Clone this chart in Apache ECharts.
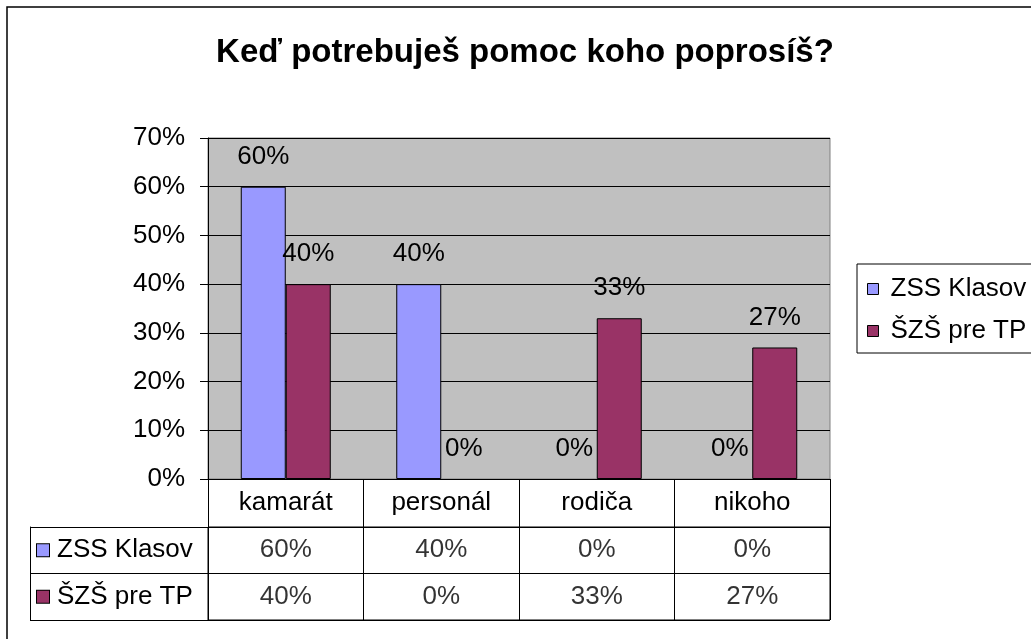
<!DOCTYPE html>
<html>
<head>
<meta charset="utf-8">
<script src="https://cdn.jsdelivr.net/npm/echarts@6/dist/echarts.min.js"></script>
<style>
html, body { margin: 0; padding: 0; background: #fff; }
#main { width: 1031px; height: 639px; }
</style>
</head>
<body>
<div id="main"></div>
<script>
// data
var categories = ['kamarát', 'personál', 'rodiča', 'nikoho'];
var seriesNames = ['ZSS Klasov', 'ŠZŠ pre TP'];
var zssKlasov = [60, 40, 0, 0];
var szsPreTP = [40, 0, 33, 27];
var yTicks = [0, 10, 20, 30, 40, 50, 60, 70];

var font = 'Liberation Sans, Arial, sans-serif';
var fs = 26;
var colors = ['#9999ff', '#993366'];

// zero bars get no outline, like the original
function barData(vals) {
  return vals.map(function (v) {
    return v === 0 ? { value: v, itemStyle: { borderWidth: 0 } } : v;
  });
}

// cells of the data table: [column, row, value]
var tableCells = [];
[zssKlasov, szsPreTP].forEach(function (vals, r) {
  vals.forEach(function (v, c) { tableCells.push([c, r, v]); });
});

var chart = echarts.init(document.getElementById('main'));

var barLabel = { show: true, position: 'top', distance: 17, formatter: '{c}%', fontFamily: font, fontSize: fs, color: '#000' };

var option = {
  animation: false,
  backgroundColor: '#fff',
  title: {
    text: 'Keď potrebuješ pomoc koho poprosíš?',
    left: 525,
    top: 36,
    padding: 0,
    textAlign: 'center',
    textStyle: { fontFamily: font, fontSize: 33, fontWeight: 'bold', color: '#000' }
  },
  legend: {
    data: seriesNames,
    orient: 'vertical',
    left: 857,
    top: 264,
    padding: [12, 80, 9, 10],
    itemGap: 16,
    itemWidth: 11,
    itemHeight: 11,
    icon: 'rect',
    borderColor: '#000',
    borderWidth: 1,
    itemStyle: { borderColor: '#000', borderWidth: 1 },
    textStyle: { fontFamily: font, fontSize: fs, lineHeight: 26, color: '#000', padding: [0, 0, 0, 7] }
  },
  graphic: [{
    type: 'rect',
    shape: { x: 7, y: 7, width: 1100, height: 700 },
    style: { fill: 'none', stroke: '#000', lineWidth: 1.5 },
    silent: true
  }],
  grid: [
    { left: 208, top: 138, width: 622, height: 341, show: true, backgroundColor: '#c0c0c0', borderColor: '#808080', borderWidth: 1 },
    { left: 208, top: 527, width: 622, height: 93, show: true, backgroundColor: '#fff', borderColor: '#000', borderWidth: 1 }
  ],
  xAxis: [{
    type: 'category',
    gridIndex: 0,
    data: categories,
    axisLine: { lineStyle: { color: '#000', width: 1 } },
    axisTick: { show: true, alignWithLabel: false, length: 48, lineStyle: { color: '#000' } },
    axisLabel: { fontFamily: font, fontSize: fs, color: '#000', margin: 11 },
    splitLine: { show: false }
  }, {
    type: 'category',
    gridIndex: 1,
    data: categories,
    axisLine: { show: false },
    axisTick: { show: false },
    axisLabel: { show: false },
    splitLine: { show: true, interval: 0, lineStyle: { color: '#000', width: 1 } }
  }],
  yAxis: [{
    type: 'value',
    gridIndex: 0,
    min: yTicks[0],
    max: yTicks[yTicks.length - 1],
    interval: 10,
    axisLine: { show: true, lineStyle: { color: '#000' } },
    axisTick: { show: true, length: 8, lineStyle: { color: '#000' } },
    axisLabel: { fontFamily: font, fontSize: fs, color: '#000', margin: 23, formatter: '{value}%' },
    splitLine: { show: true, lineStyle: { color: '#000', width: 1 } }
  }, {
    type: 'category',
    gridIndex: 1,
    data: seriesNames,
    inverse: true,
    offset: 178,
    axisLine: { show: true, lineStyle: { color: '#000' } },
    axisTick: { show: true, inside: true, alignWithLabel: false, length: 178, lineStyle: { color: '#000' } },
    axisLabel: {
      inside: true,
      margin: 7,
      formatter: function (v, i) { return '{s' + i + '|}{t|' + v + '}'; },
      rich: {
        s0: { width: 12, height: 12, backgroundColor: colors[0], borderColor: '#000', borderWidth: 1 },
        s1: { width: 12, height: 12, backgroundColor: colors[1], borderColor: '#000', borderWidth: 1 },
        t: { fontFamily: font, fontSize: fs, color: '#000', padding: [0, 0, 0, 8] }
      }
    },
    splitLine: { show: true, interval: 0, lineStyle: { color: '#000', width: 1 } }
  }],
  series: [{
    name: seriesNames[0],
    type: 'bar',
    xAxisIndex: 0,
    yAxisIndex: 0,
    data: barData(zssKlasov),
    barWidth: 45,
    barGap: '0%',
    itemStyle: { color: colors[0], borderColor: '#000', borderWidth: 1 },
    label: barLabel
  }, {
    name: seriesNames[1],
    type: 'bar',
    xAxisIndex: 0,
    yAxisIndex: 0,
    data: barData(szsPreTP),
    barWidth: 45,
    barGap: '0%',
    itemStyle: { color: colors[1], borderColor: '#000', borderWidth: 1 },
    label: barLabel
  }, {
    name: 'table',
    type: 'scatter',
    xAxisIndex: 1,
    yAxisIndex: 1,
    data: tableCells,
    symbolSize: 1,
    itemStyle: { color: 'transparent' },
    silent: true,
    label: {
      show: true,
      position: 'inside',
      formatter: function (p) { return p.value[2] + '%'; },
      fontFamily: font, fontSize: fs, color: '#000'
    }
  }]
};

chart.setOption(option);
</script>
</body>
</html>
